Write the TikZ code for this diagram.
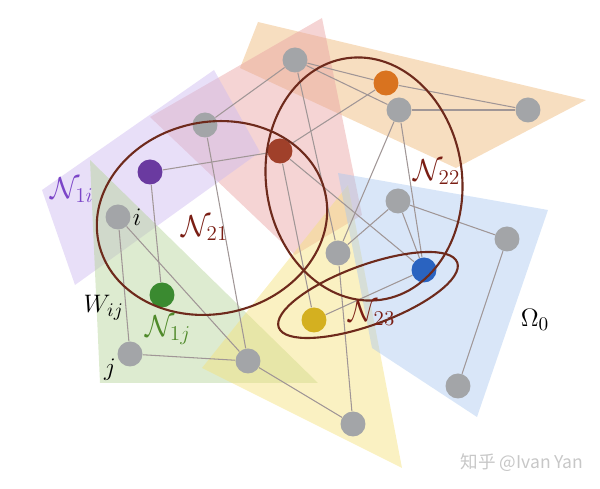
\documentclass[tikz,border=0pt]{standalone}
\usepackage{amsmath, amssymb}
\usepackage{fontspec}
\usepackage{tikz}
\usepackage{xcolor}
\usetikzlibrary{shapes.geometric}
\newfontfamily\cjk{Noto Sans CJK SC}

\definecolor{grayball}{HTML}{A3A5A8}
\definecolor{orangeball}{HTML}{D9731F}
\definecolor{redball}{HTML}{A0402A}
\definecolor{purpleball}{HTML}{6A3AA0}
\definecolor{blueball}{HTML}{2A63C0}
\definecolor{greenball}{HTML}{3A8A30}
\definecolor{yellowball}{HTML}{D4B020}
\definecolor{linkgray}{HTML}{A09696}
\definecolor{ringbrown}{HTML}{6E2A1C}
\definecolor{labred}{HTML}{7A1E14}
\definecolor{labpurple}{HTML}{7B45C8}
\definecolor{labgreen}{HTML}{4F8A2A}
\definecolor{tanpatch}{RGB}{238,181,116}
\definecolor{pinkpatch}{RGB}{232,160,160}
\definecolor{purplepatch}{RGB}{205,185,240}
\definecolor{greenpatch}{RGB}{180,210,150}
\definecolor{yellowpatch}{RGB}{245,225,120}
\definecolor{bluepatch}{RGB}{170,200,240}

\begin{document}
\begin{tikzpicture}[x=0.02cm, y=-0.02cm,
    ball/.style={circle, minimum size=0.5cm, inner sep=0pt, fill=#1},
    ball/.default=grayball,
    link/.style={draw=linkgray, line width=0.6pt},
    ring/.style={draw=ringbrown, ellipse, line width=1.2pt, inner sep=0pt},
    patch/.style={fill=#1, fill opacity=0.45},
    lab/.style={font=\fontsize{15}{17}\selectfont},
    biglab/.style={font=\fontsize{17}{19}\selectfont}]
            \useasboundingbox (0,0) rectangle (600,489);

            % Regions
            \fill [patch=tanpatch] (258,22) -- (586,100) -- (456,168) -- (240,68) -- cycle;
            \fill [patch=pinkpatch] (150,117) -- (322,18) -- (362,215) -- (295,255) -- cycle;
            \fill [patch=purplepatch] (42,190) -- (214,70) -- (260,152) -- (75,285) -- cycle;
            \fill [patch=greenpatch] (90,160) -- (100,383) -- (318,383) -- cycle;
            \fill [patch=yellowpatch] (348,185) -- (402,468) -- (202,368) -- cycle;
            \fill [patch=bluepatch] (338,173) -- (548,210) -- (477,417) -- (372,348) -- cycle;

            % Nodes
            \node [ball] (top) at (295,60) {};
            \node [ball=orangeball] (orange) at (386,83) {};
            \node [ball] (upper) at (399,110) {};
            \node [ball] (far) at (528,110) {};
            \node [ball] (left) at (205,125) {};
            \node [ball=redball] (red) at (280,151) {};
            \node [ball=purpleball] (purple) at (150,172) {};
            \node [ball] (i) at (118,217) {};
            \node [ball] (mid) at (398,201) {};
            \node [ball] (east) at (507,239) {};
            \node [ball] (centre) at (338,253) {};
            \node [ball=blueball] (blue) at (424,270) {};
            \node [ball=greenball] (green) at (162,295) {};
            \node [ball=yellowball] (yellow) at (314,320) {};
            \node [ball] (j) at (130,354) {};
            \node [ball] (low) at (248,361) {};
            \node [ball] (south) at (458,386) {};
            \node [ball] (bottom) at (353,424) {};

            % Edges
            \draw [link] (top) -- (orange);
            \draw [link] (top) -- (upper);
            \draw [link] (top) -- (left);
            \draw [link] (top) -- (centre);
            \draw [link] (orange) -- (far);
            \draw [link] (upper) -- (far);
            \draw [link] (orange) -- (red);
            \draw [link] (upper) -- (centre);
            \draw [link] (upper) -- (blue);
            \draw [link] (red) -- (purple);
            \draw [link] (red) -- (blue);
            \draw [link] (red) -- (yellow);
            \draw [link] (left) -- (low);
            \draw [link] (purple) -- (green);
            \draw [link] (i) -- node[lab, left, pos=0.7, inner sep=1pt] {$W_{ij}$} (j);
            \draw [link] (i) -- (low);
            \draw [link] (j) -- (low);
            \draw [link] (low) -- (bottom);
            \draw [link] (centre) -- (bottom);
            \draw [link] (centre) -- (mid);
            \draw [link] (mid) -- (blue);
            \draw [link] (mid) -- (east);
            \draw [link] (east) -- (south);
            \draw [link] (yellow) -- (blue);

            % Neighbourhoods
            \node [ring, minimum width=4.64cm, minimum height=3.84cm, rotate=12] (n21) at (212,218) {};
            \node [ring, minimum width=3.92cm, minimum height=4.88cm, rotate=8] (n22) at (364,179) {};
            \node [ring, minimum width=3.8cm, minimum height=1.2cm, rotate=20] (n23) at (368,295) {};

            % Labels
            \node [biglab, text=labpurple] (l1i) at (72,190) {$\mathcal{N}_{1i}$};
            \node [lab, right, inner sep=1pt] (li) at (i.east) {$i$};
            \node [biglab, text=labred] (l21) at (205,228) {$\mathcal{N}_{21}$};
            \node [biglab, text=labred] (l22) at (437,172) {$\mathcal{N}_{22}$};
            \node [biglab, text=labred] (l23) at (372,313) {$\mathcal{N}_{23}$};
            \node [biglab, text=labgreen] (l1j) at (168,330) {$\mathcal{N}_{1j}$};
            \node [lab] (lj) at (110,370) {$j$};
            \node [lab] (omega) at (535,320) {$\Omega_0$};
            \node [text=black!22, font=\cjk\fontsize{10}{12}\selectfont] (mark) at (522,463) {知乎 @Ivan Yan};

        \end{tikzpicture}
\end{document}
